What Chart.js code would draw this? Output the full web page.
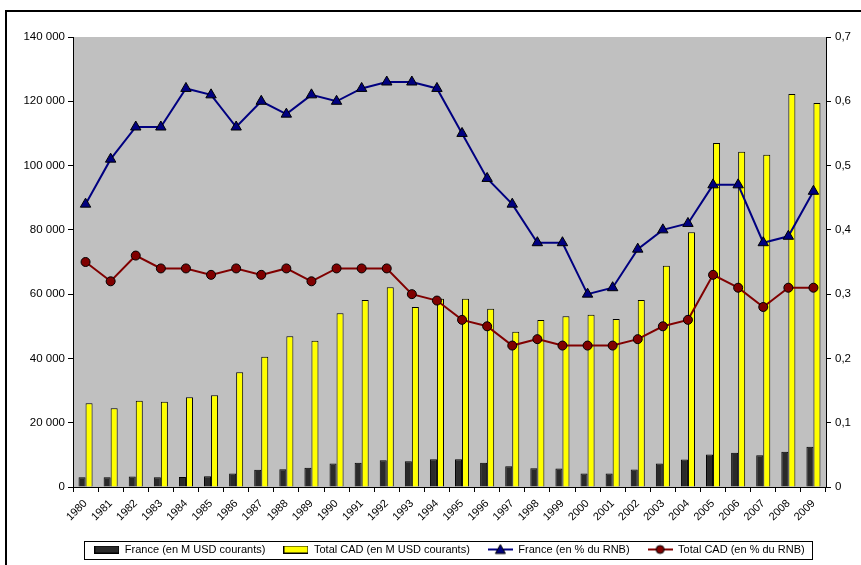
<!DOCTYPE html>
<html>
<head>
<meta charset="utf-8">
<script src="https://cdn.jsdelivr.net/npm/chart.js@4/dist/chart.umd.min.js"></script>
<style>
  html, body { margin: 0; padding: 0; background: #fff; }
  #wrap { width: 861px; height: 565px; }
</style>
</head>
<body>
<div id="wrap"><canvas id="aideChart" width="861" height="565"></canvas></div>
<script>
var annees = ['1980', '1981', '1982', '1983', '1984', '1985', '1986', '1987', '1988', '1989',
              '1990', '1991', '1992', '1993', '1994', '1995', '1996', '1997', '1998', '1999',
              '2000', '2001', '2002', '2003', '2004', '2005', '2006', '2007', '2008', '2009'];

// M USD courants (axe gauche)
var franceUSD = [3050, 3050, 3270, 3050, 3150, 3370, 4200, 5350, 5540, 5970,
                 7310, 7530, 8340, 8030, 8650, 8650, 7530, 6470, 5850, 5750,
                 4200, 4200, 5440, 7310, 8560, 10110, 10640, 9900, 10950, 12500];
var cadUSD = [26040, 24480, 26850, 26540, 27900, 28520, 35680, 40540, 46870, 45520,
              54020, 58180, 62120, 56000, 58590, 58600, 55470, 48320, 51960, 53090,
              53620, 52270, 58180, 68870, 79230, 107020, 104330, 103400, 122270, 119470];

// % du RNB (axe droit)
var francePct = [0.44, 0.51, 0.56, 0.56, 0.62, 0.61, 0.56, 0.60, 0.58, 0.61,
                 0.60, 0.62, 0.63, 0.63, 0.62, 0.55, 0.48, 0.44, 0.38, 0.38,
                 0.30, 0.31, 0.37, 0.40, 0.41, 0.47, 0.47, 0.38, 0.39, 0.46];
var cadPct = [0.35, 0.32, 0.36, 0.34, 0.34, 0.33, 0.34, 0.33, 0.34, 0.32,
              0.34, 0.34, 0.34, 0.30, 0.29, 0.26, 0.25, 0.22, 0.23, 0.22,
              0.22, 0.22, 0.23, 0.25, 0.26, 0.33, 0.31, 0.28, 0.31, 0.31];

var libelles = ['France (en M USD courants)', 'Total CAD (en M USD courants)',
                'France (en % du RNB)', 'Total CAD (en % du RNB)'];

var police = 'Liberation Sans, Arial, sans-serif';

/* petites images pour la legende */
function swatchBarre(couleur) {
    var c = document.createElement('canvas');
    c.width = 25; c.height = 8;
    var g = c.getContext('2d');
    g.fillStyle = couleur;
    g.fillRect(0.5, 0.5, 24, 7);
    g.strokeStyle = '#000';
    g.lineWidth = 1;
    g.strokeRect(0.5, 0.5, 24, 7);
    return c;
}

function swatchLigne(couleur, marqueur) {
    var c = document.createElement('canvas');
    c.width = 25; c.height = 12;
    var g = c.getContext('2d');
    g.strokeStyle = couleur;
    g.lineWidth = 2;
    g.beginPath(); g.moveTo(0, 6); g.lineTo(25, 6); g.stroke();
    g.fillStyle = couleur;
    g.strokeStyle = '#000';
    g.lineWidth = 1;
    g.beginPath();
    if (marqueur === 'triangle') {
        g.moveTo(12.5, 1); g.lineTo(17.5, 10); g.lineTo(7.5, 10); g.closePath();
    } else {
        g.arc(12.5, 6, 4, 0, Math.PI * 2);
    }
    g.fill(); g.stroke();
    return c;
}

var swatches = [swatchBarre('#2a2a2a'), swatchBarre('#ffff00'),
                swatchLigne('#000080', 'triangle'), swatchLigne('#800000', 'circle')];

/* fond gris de la zone de trace + cadre exterieur */
var fondPlugin = {
    id: 'fond',
    beforeDraw: function(chart) {
        var ctx = chart.ctx, a = chart.chartArea;
        ctx.save();
        ctx.fillStyle = '#ffffff';
        ctx.fillRect(0, 0, chart.width, chart.height);
        ctx.fillStyle = '#c0c0c0';
        ctx.fillRect(a.left, a.top, a.right - a.left, a.bottom - a.top);
        ctx.strokeStyle = '#000';
        ctx.lineWidth = 2;
        ctx.strokeRect(6, 11, chart.width + 10, chart.height + 10);
        ctx.restore();
    },
    afterDraw: function(chart) {
        var boxes = chart.legend.legendHitBoxes;
        if (!boxes || !boxes.length) return;
        var l = boxes[0].left - 10, r = boxes[boxes.length - 1].left + boxes[boxes.length - 1].width + 8;
        var cy = boxes[0].top + boxes[0].height / 2;
        var ctx = chart.ctx;
        ctx.save();
        ctx.strokeStyle = '#000';
        ctx.lineWidth = 1;
        ctx.strokeRect(Math.round(l) + 0.5, Math.round(cy - 9) + 0.5, Math.round(r - l), 18);
        ctx.restore();
    }
};

function formatMilliers(v) {
    return String(v).replace(/\B(?=(\d{3})+(?!\d))/g, ' ');
}

function formatPct(v) {
    if (v === 0) return '0';
    return String(Math.round(v * 10) / 10).replace('.', ',');
}

var ctx = document.getElementById('aideChart').getContext('2d');
var chart = new Chart(ctx, {
    type: 'bar',
    data: {
        labels: annees,
        datasets: [{
            label: libelles[0],
            data: franceUSD,
            backgroundColor: '#2a2a2a',
            borderColor: '#000',
            borderWidth: 1,
            yAxisID: 'y',
            order: 1,
            categoryPercentage: 0.56,
            barPercentage: 1
        }, {
            label: libelles[1],
            data: cadUSD,
            backgroundColor: '#ffff00',
            borderColor: '#000',
            borderWidth: 1,
            yAxisID: 'y',
            order: 1,
            categoryPercentage: 0.56,
            barPercentage: 1
        }, {
            type: 'line',
            label: libelles[2],
            data: francePct,
            borderColor: '#000080',
            borderWidth: 2,
            backgroundColor: '#000080',
            pointStyle: 'triangle',
            pointRadius: 6,
            pointBackgroundColor: '#000080',
            pointBorderColor: '#000',
            pointBorderWidth: 1,
            yAxisID: 'y1',
            order: 0
        }, {
            type: 'line',
            label: libelles[3],
            data: cadPct,
            borderColor: '#800000',
            borderWidth: 2,
            backgroundColor: '#800000',
            pointStyle: 'circle',
            pointRadius: 4.5,
            pointBackgroundColor: '#800000',
            pointBorderColor: '#000',
            pointBorderWidth: 1,
            yAxisID: 'y1',
            order: 0
        }]
    },
    options: {
        responsive: false,
        animation: false,
        layout: { padding: { top: 37, left: 0, right: 0, bottom: 0 } },
        plugins: {
            tooltip: { enabled: false },
            legend: {
                position: 'bottom',
                fullSize: false,
                labels: {
                    usePointStyle: true,
                    pointStyleWidth: 25,
                    padding: 18,
                    color: '#000',
                    font: { family: police, size: 11 },
                    sort: function(a, b) { return a.datasetIndex - b.datasetIndex; },
                    generateLabels: function(chart) {
                        var items = Chart.defaults.plugins.legend.labels.generateLabels(chart);
                        items.forEach(function(it) { it.pointStyle = swatches[it.datasetIndex]; });
                        return items;
                    }
                }
            }
        },
        scales: {
            x: {
                afterFit: function(scale) { scale.height = 39; },
                grid: { display: true, drawOnChartArea: false, drawTicks: true, tickLength: 5, color: '#000', offset: true },
                border: { color: '#000', width: 1 },
                ticks: {
                    color: '#000',
                    font: { family: police, size: 11 },
                    minRotation: 45,
                    maxRotation: 45,
                    autoSkip: false,
                    padding: 5
                }
            },
            y: {
                position: 'left',
                min: 0,
                max: 140000,
                afterFit: function(scale) { scale.width = 73; },
                grid: { drawOnChartArea: false, tickLength: 5, color: '#000' },
                border: { color: '#000', width: 1 },
                ticks: {
                    stepSize: 20000,
                    color: '#000',
                    font: { family: police, size: 11.5 },
                    padding: 3,
                    callback: function(v) { return formatMilliers(v); }
                }
            },
            y1: {
                position: 'right',
                min: 0,
                max: 0.7,
                afterFit: function(scale) { scale.width = 35; },
                grid: { drawOnChartArea: false, tickLength: 5, color: '#000' },
                border: { color: '#000', width: 1 },
                ticks: {
                    stepSize: 0.1,
                    color: '#000',
                    font: { family: police, size: 11.5 },
                    padding: 4,
                    callback: function(v) { return formatPct(v); }
                }
            }
        }
    },
    plugins: [fondPlugin]
});
</script>
</body>
</html>
